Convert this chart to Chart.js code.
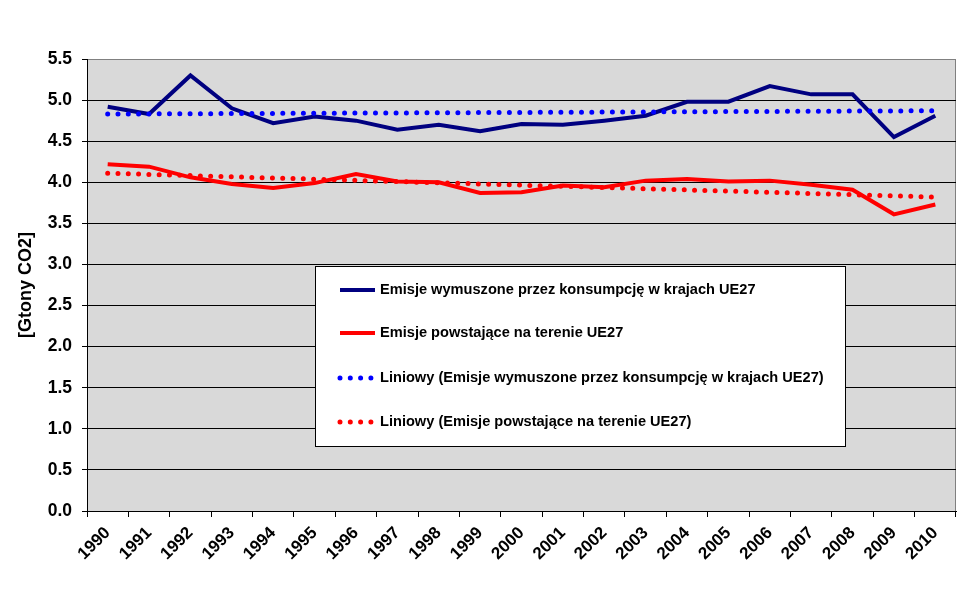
<!DOCTYPE html>
<html>
<head>
<meta charset="utf-8">
<script src="https://cdn.jsdelivr.net/npm/chart.js@4.4.1/dist/chart.umd.min.js"></script>
<style>
  html, body { margin:0; padding:0; background:#fff; }
  canvas { display:block; }
</style>
</head>
<body>
<canvas id="my_canvas" width="967" height="590"></canvas>
<script>
// values, Gt CO2
const the_years = ['1990','1991','1992','1993','1994','1995','1996','1997','1998','1999','2000',
                   '2001','2002','2003','2004','2005','2006','2007','2008','2009','2010'];
const consumption = [4.92,4.83,5.30,4.90,4.72,4.80,4.75,4.64,4.70,4.62,4.71,
                     4.70,4.75,4.81,4.98,4.98,5.17,5.07,5.07,4.55,4.81];
const territorial = [4.22,4.19,4.06,3.98,3.93,3.99,4.10,4.01,4.00,3.87,3.88,
                     3.96,3.94,4.02,4.04,4.01,4.02,3.97,3.91,3.61,3.73];
// trend lines: only the two ends are read, the line spans the gap
const consumption_trend = [4.83,null,null,null,null,null,null,null,null,null,null,
                           null,null,null,null,null,null,null,null,null,4.87];
const territorial_trend = [4.11,null,null,null,null,null,null,null,null,null,null,
                           null,null,null,null,null,null,null,null,null,3.82];
const y_ticks = [0,0.5,1,1.5,2,2.5,3,3.5,4,4.5,5,5.5];

const series_names = [
    'Emisje wymuszone przez konsumpcję w krajach UE27',
    'Emisje powstające na terenie UE27',
    'Liniowy (Emisje wymuszone przez konsumpcję w krajach UE27)',
    'Liniowy (Emisje powstające na terenie UE27)'
];

Chart.defaults.font.family = 'Arial, "Liberation Sans", sans-serif';
Chart.defaults.color = '#000';

const plotBack = {
    id:'plotBack',
    beforeDraw(chart){
        const {ctx, chartArea:a} = chart;
        ctx.save();
        ctx.fillStyle = '#d9d9d9';
        ctx.fillRect(a.left, a.top, a.right - a.left, a.bottom - a.top);
        ctx.strokeStyle = '#808080';
        ctx.lineWidth = 1;
        ctx.beginPath();
        ctx.moveTo(a.left, a.top + 0.5);
        ctx.lineTo(a.right - 0.5, a.top + 0.5);
        ctx.lineTo(a.right - 0.5, a.bottom);
        ctx.stroke();
        ctx.restore();
    }
};

const boxLegend = {
    id:'boxLegend',
    afterDatasetsDraw(chart, args, opts){
        const ctx = chart.ctx;
        ctx.save();
        ctx.fillStyle = '#fff';
        ctx.fillRect(opts.x, opts.y, opts.w, opts.h);
        ctx.strokeStyle = '#000';
        ctx.lineWidth = 1;
        ctx.strokeRect(opts.x + 0.5, opts.y + 0.5, opts.w, opts.h);
        ctx.font = 'bold 14.6px Arial, "Liberation Sans", sans-serif';
        ctx.textBaseline = 'middle';
        chart.data.datasets.forEach((ds, i) => {
            const yy = opts.rows[i];
            ctx.strokeStyle = ds.borderColor;
            ctx.lineWidth = ds.borderWidth;
            ctx.lineCap = ds.borderCapStyle || 'butt';
            ctx.setLineDash(ds.borderDash || []);
            ctx.beginPath();
            ctx.moveTo(opts.sx, yy);
            ctx.lineTo(opts.sx + opts.sw, yy);
            ctx.stroke();
            ctx.setLineDash([]);
            ctx.fillStyle = '#000';
            ctx.fillText(ds.label, opts.tx, yy);
        });
        ctx.restore();
    }
};

const canvas_element = document.getElementById('my_canvas').getContext('2d');

const the_chart = new Chart(canvas_element,{
    type:'line',
    data:{
        labels:the_years,
        datasets:[{
            label:series_names[0],
            data:consumption,
            borderColor:'#000080',
            borderWidth:4,
            pointRadius:0,
            tension:0,
            order:2
        },{
            label:series_names[1],
            data:territorial,
            borderColor:'#ff0000',
            borderWidth:4,
            pointRadius:0,
            tension:0,
            order:2
        },{
            label:series_names[2],
            data:consumption_trend,
            borderColor:'#0000ff',
            borderWidth:5,
            borderDash:[0,10.3],
            borderCapStyle:'round',
            pointRadius:0,
            spanGaps:true,
            order:1
        },{
            label:series_names[3],
            data:territorial_trend,
            borderColor:'#ff0000',
            borderWidth:5,
            borderDash:[0,10.3],
            borderCapStyle:'round',
            pointRadius:0,
            spanGaps:true,
            order:1
        }]
    },
    options:{
        responsive:false,
        animation:false,
        layout:{ padding:{ top:59, right:11, left:0, bottom:0 } },
        plugins:{
            legend:{ display:false },
            tooltip:{ enabled:false },
            boxLegend:{
                x:315, y:266, w:530, h:180,
                rows:[290, 333, 378, 422],
                sx:340, sw:35, tx:380
            }
        },
        scales:{
            y:{
                min:0,
                max:5.5,
                afterFit(scale){ scale.width = 87; },
                afterBuildTicks(scale){ scale.ticks = y_ticks.map(v => ({value:v})); },
                ticks:{
                    padding:10,
                    font:{ size:17.5, weight:'bold' },
                    callback:(v) => Number(v).toFixed(1)
                },
                grid:{
                    color:(c) => c.tick && c.tick.value === 5.5 ? '#808080' : '#000',
                    tickColor:'#000',
                    tickLength:5,
                    lineWidth:1
                },
                border:{ color:'#000', width:1 },
                title:{
                    display:true,
                    text:'[Gtony CO2]',
                    font:{ size:18, weight:'bold' },
                    padding:{ top:15, bottom:0 }
                }
            },
            x:{
                offset:true,
                afterFit(scale){ scale.height = 79; },
                ticks:{
                    minRotation:45,
                    maxRotation:45,
                    padding:6,
                    autoSkip:false,
                    font:{ size:17, weight:'bold' }
                },
                grid:{
                    offset:true,
                    drawOnChartArea:false,
                    tickColor:'#000',
                    tickLength:6
                },
                border:{ color:'#000', width:1 }
            }
        }
    },
    plugins:[plotBack, boxLegend]
});
</script>
</body>
</html>
